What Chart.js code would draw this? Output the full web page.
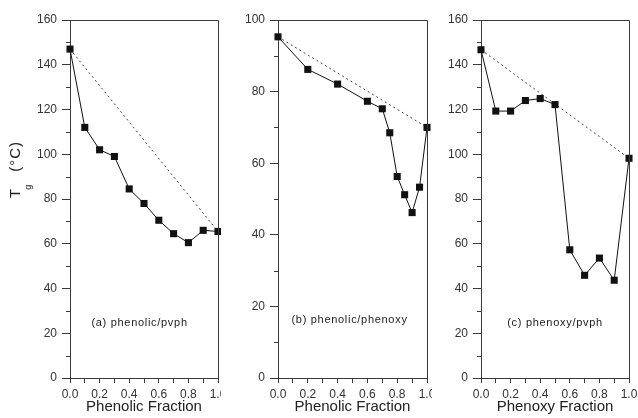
<!DOCTYPE html>
<html>
<head>
<meta charset="utf-8">
<script src="https://cdn.jsdelivr.net/npm/chart.js@4.4.1/dist/chart.umd.min.js"></script>
<style>
  html, body { margin: 0; padding: 0; background: #fff; overflow: hidden; }
  body { width: 638px; height: 418px; position: relative; }
  .panel { position: absolute; top: 0; height: 418px; }
  canvas { display: block; }
</style>
</head>
<body>
<div class="panel" style="left:0;width:240px"><canvas id="chartA"></canvas></div>
<div class="panel" style="left:221px;width:225px"><canvas id="chartB"></canvas></div>
<div class="panel" style="left:432px;width:220px"><canvas id="chartC"></canvas></div>
<script>
// (a) phenolic/pvph
const fracA = [0.0, 0.1, 0.2, 0.3, 0.4, 0.5, 0.6, 0.7, 0.8, 0.9, 1.0];
const tgA = [147, 112, 102, 99, 84.5, 78, 70.5, 64.5, 60.5, 66, 65.5];
const idealA = [147, 65.5];

// (b) phenolic/phenoxy
const fracB = [0.0, 0.2, 0.4, 0.6, 0.7, 0.75, 0.8, 0.85, 0.9, 0.95, 1.0];
const tgB = [95.3, 86.2, 82.1, 77.3, 75.2, 68.5, 56.3, 51.2, 46.2, 53.3, 70];
const idealB = [95.3, 70];

// (c) phenoxy/pvph
const fracC = [0.0, 0.1, 0.2, 0.3, 0.4, 0.5, 0.6, 0.7, 0.8, 0.9, 1.0];
const tgC = [146.7, 119.3, 119.3, 124, 124.9, 122.2, 57.3, 45.9, 53.6, 43.7, 98.2];
const idealC = [146.7, 98.2];

const xTicks = [0, 0.1, 0.2, 0.3, 0.4, 0.5, 0.6, 0.7, 0.8, 0.9, 1.0];
const xTickLabels = ['0.0', '', '0.2', '', '0.4', '', '0.6', '', '0.8', '', '1.0'];
const yTicks160 = [0, 20, 40, 60, 80, 100, 120, 140, 160];
const yMinor160 = [10, 30, 50, 70, 90, 110, 130, 150];
const yTicks100 = [0, 20, 40, 60, 80, 100];
const yMinor100 = [10, 30, 50, 70, 90];

const FONT = '"Liberation Sans", Arial, sans-serif';
const AXIS = '#3a3a3a';

const panelExtras = {
  id: 'panelExtras',
  beforeDraw(chart) {
    const ctx = chart.ctx;
    ctx.save();
    ctx.fillStyle = '#fff';
    ctx.fillRect(0, 0, chart.width, chart.height);
    ctx.restore();
  },
  afterDraw(chart, args, o) {
    const { ctx, chartArea, scales } = chart;
    const { left, right, top, bottom } = chartArea;
    ctx.save();
    ctx.strokeStyle = AXIS;
    ctx.lineWidth = 1;
    ctx.beginPath();
    ctx.moveTo(left, top + 0.5);
    ctx.lineTo(right + 0.5, top + 0.5);
    ctx.lineTo(right + 0.5, bottom);
    ctx.stroke();
    // minor ticks on y
    ctx.beginPath();
    o.minor.forEach(v => {
      const py = Math.round(scales.y.getPixelForValue(v)) + 0.5;
      ctx.moveTo(left - 4, py);
      ctx.lineTo(left, py);
    });
    ctx.stroke();
    // note
    ctx.fillStyle = '#222';
    ctx.font = '11px ' + FONT;
    ctx.letterSpacing = '0.7px';
    ctx.textAlign = 'center';
    ctx.textBaseline = 'middle';
    ctx.fillText(o.note, scales.x.getPixelForValue(o.noteAt[0]), scales.y.getPixelForValue(o.noteAt[1]));
    ctx.letterSpacing = '0px';
    // y title with subscript
    if (o.yTitle) {
      ctx.translate(20, 198);
      ctx.rotate(-Math.PI / 2);
      ctx.textAlign = 'left';
      ctx.textBaseline = 'alphabetic';
      ctx.font = '15px ' + FONT;
      ctx.fillText('T', 0, 0);
      const tw = ctx.measureText('T').width;
      ctx.font = '9px ' + FONT;
      ctx.fillText('g', tw - 1, 11);
      ctx.font = '15px ' + FONT;
      ctx.letterSpacing = '1px';
      ctx.fillText('(\u00B0C)', tw + 17, 0);
    }
    ctx.restore();
  }
};

function makePanel(id, p) {
  return new Chart(document.getElementById(id), {
    type: 'line',
    data: {
      datasets: [
        {
          data: p.xs.map((x, i) => ({ x: x, y: p.ys[i] })),
          borderColor: '#111',
          borderWidth: 1,
          pointStyle: 'rect',
          pointRadius: 5,
          pointHoverRadius: 5,
          pointBackgroundColor: '#111',
          pointBorderWidth: 0,
          clip: false,
          order: 1
        },
        {
          data: [{ x: 0, y: p.ideal[0] }, { x: 1, y: p.ideal[1] }],
          borderColor: '#444',
          borderWidth: 1,
          borderDash: [2, 3],
          pointRadius: 0,
          clip: false,
          order: 2
        }
      ]
    },
    options: {
      responsive: true,
      maintainAspectRatio: false,
      animation: false,
      events: [],
      layout: { padding: { top: 20, right: p.padRight, left: 0, bottom: 0 } },
      plugins: {
        legend: { display: false },
        tooltip: { enabled: false },
        panelExtras: { minor: p.minor, note: p.note, noteAt: p.noteAt, yTitle: p.yTitle }
      },
      scales: {
        x: {
          type: 'linear',
          min: 0,
          max: 1,
          afterBuildTicks: s => { s.ticks = xTicks.map(v => ({ value: v })); },
          afterFit: s => { s.height = 40; },
          ticks: {
            autoSkip: false,
            maxRotation: 0,
            padding: 4,
            color: '#333',
            font: { family: FONT, size: 12 },
            callback: (v, i) => xTickLabels[i]
          },
          grid: { drawOnChartArea: false, tickLength: 5, color: AXIS },
          border: { color: AXIS },
          title: {
            display: true,
            text: p.xTitle,
            color: '#222',
            font: { family: FONT, size: 15 },
            padding: { top: 0, bottom: 2 }
          }
        },
        y: {
          type: 'linear',
          min: 0,
          max: p.yMax,
          afterBuildTicks: s => { s.ticks = p.yTicks.map(v => ({ value: v })); },
          afterFit: s => { s.width = p.yWidth; },
          ticks: {
            padding: 5,
            color: '#333',
            font: { family: FONT, size: 12 },
            callback: v => String(v)
          },
          grid: { drawOnChartArea: false, tickLength: 8, color: AXIS },
          border: { color: AXIS }
        }
      }
    },
    plugins: [panelExtras]
  });
}

makePanel('chartA', {
  xs: fracA, ys: tgA, ideal: idealA, yMax: 160, yTicks: yTicks160, minor: yMinor160,
  yWidth: 70, padRight: 22, xTitle: 'Phenolic Fraction',
  note: '(a) phenolic/pvph', noteAt: [0.47, 24.5], yTitle: true
});
makePanel('chartB', {
  xs: fracB, ys: tgB, ideal: idealB, yMax: 100, yTicks: yTicks100, minor: yMinor100,
  yWidth: 57, padRight: 19, xTitle: 'Phenolic Fraction',
  note: '(b) phenolic/phenoxy', noteAt: [0.48, 16.2], yTitle: false
});
makePanel('chartC', {
  xs: fracC, ys: tgC, ideal: idealC, yMax: 160, yTicks: yTicks160, minor: yMinor160,
  yWidth: 49, padRight: 23, xTitle: 'Phenoxy Fraction',
  note: '(c) phenoxy/pvph', noteAt: [0.5, 24.5], yTitle: false
});
</script>
</body>
</html>
